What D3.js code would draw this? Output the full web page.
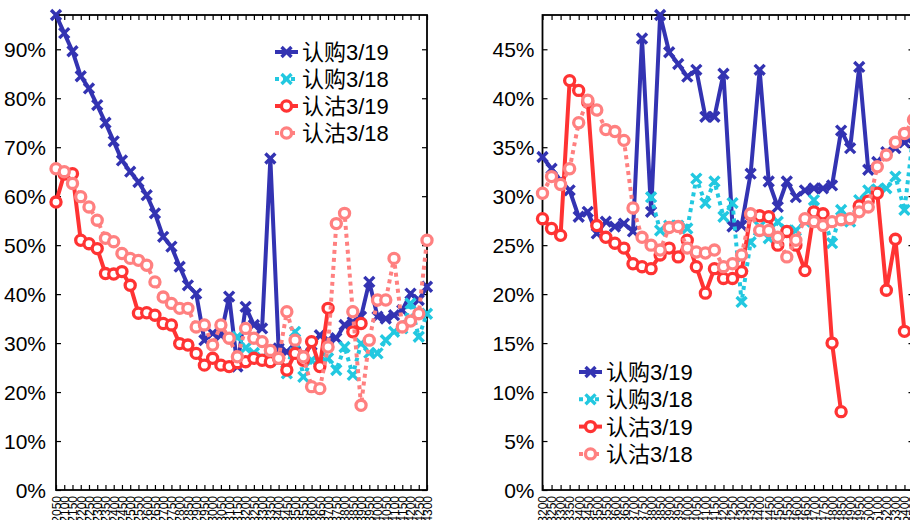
<!DOCTYPE html>
<html><head><meta charset="utf-8">
<script src="https://cdn.jsdelivr.net/npm/d3@7"></script>
<style>
html,body{margin:0;padding:0;background:#fff;overflow:hidden}
text{font-family:"Liberation Sans",Arial,"Noto Sans CJK SC",sans-serif;fill:#000}
</style></head><body>
<svg id="chart" width="910" height="520"></svg>
<script>
// ---------- data ----------
const leftStrikes = ["2050","2100","2150","2200","2250","2300","2350","2400","2450","2500",
  "2550","2600","2650","2700","2750","2800","2850","2900","2950","3000",
  "3050","3100","3150","3200","3250","3300","3350","3400","3450","3500",
  "3550","3600","3650","3700","3750","3800","3850","3900","3950","4000",
  "4050","4100","4150","4200","4250","4300"];
const rightStrikes = ["3200","3250","3300","3350","3400","3450","3500","3550","3600","3650",
  "3700","3750","3800","3850","3900","3950","4000","4050","4100","4150",
  "4200","4250","4300","4350","4400","4450","4500","4550","4600","4650",
  "4700","4750","4800","4850","4900","4950","5000","5100","5200","5300",
  "5400","5500"];
const seriesNames = ["认购3/19","认购3/18","认沽3/19","认沽3/18"];

// values in percent
const leftCall319 = [97,93.3,89.6,84.5,82,78.6,75,71.2,67.3,65,
  62.9,60.2,56.5,51.7,49.7,45.6,41.8,40.1,30.6,32,
  31.6,39.5,25.2,37.4,33.7,33,67.7,28.9,28.2,29.9,
  27.6,29.6,31.6,30.6,31,33.7,34.3,35.4,42.5,35.4,
  35,35.7,36.7,40.1,38.8,41.5];
const leftCall318 = [null,null,null,null,null,null,null,null,null,null,
  null,null,null,null,null,null,null,null,null,null,
  null,null,31.3,29,28,27,27,26.5,23.8,32.3,
  23.1,26.5,26,26.9,24.5,29.2,23.5,29.9,28,27.9,
  30.6,32.3,33,38.1,31.3,36];
const leftPut319 = [58.8,64.5,64.6,51,50.3,49.3,44.2,44.1,44.6,41.8,
  36.1,36.2,35.7,34,33.7,29.9,29.6,27.9,25.5,26.9,
  25.5,25.2,26,26.2,26.9,26.5,26.2,26.9,24.5,27.9,
  26.5,30.3,25.2,37.1,null,null,32.3,34,null,null,
  null,null,null,null,null,null];
const leftPut318 = [65.6,65,62.6,59.9,57.8,55.1,51.4,50.7,48.3,47.3,
  46.9,45.9,42.5,39.4,38.1,37.1,37.1,33.3,33.7,29.6,
  33.7,31,27.2,33,31,30.3,28.5,26.9,36.4,30.6,
  27.2,21.1,20.7,29.2,54.4,56.5,36.4,17.3,30.6,38.8,
  38.8,47.3,33.3,34.5,36,51];

const rightCall319 = [34,32.8,31.6,30.6,27.9,28.4,26.2,27.4,26.9,27.2,
  26.4,46.1,28.4,48.5,44.7,43.5,42.2,42.9,38.1,38.1,
  42.5,26.9,27,32.3,42.9,31.5,28.9,31.5,29.9,30.6,
  30.8,30.8,31.1,36.7,34.9,43.2,32.7,33.5,34.5,34.9,
  35.5,36];
const rightCall318 = [null,null,null,null,null,null,null,null,null,null,
  null,null,29.9,26.5,27,27,26.7,31.8,29.3,31.5,
  27.9,29.3,19.2,25.3,26.9,25.7,27.4,26.5,26.5,27.4,
  29.6,27.9,25.2,28.6,27.4,29.6,30.6,30.7,30.8,32,
  28.6,36.5];
const rightPut319 = [27.7,26.7,26,41.8,40.8,39.6,27,25.8,25.2,24.7,
  23.1,22.8,22.6,24,24.7,23.8,25.5,22.8,20.1,22.6,
  21.6,21.6,22.3,28.1,28,27.9,25,26.4,25,22.4,
  28.4,28.2,15,8,null,29,29.5,30.3,20.4,25.6,
  16.2,null];
const rightPut318 = [30.3,32,31.2,32.8,37.5,39.8,38.8,36.8,36.6,35.7,
  28.8,25.8,25,24.5,26.8,26.9,24.7,24.3,24.2,24.5,
  22.8,23.1,24,28.2,26.5,26.5,25.8,23.8,25.5,27.7,
  27.4,27,27.4,27.6,27.7,28.4,28.9,33,34.2,35.5,
  36.4,37.8];

const leftYTicks = [0,10,20,30,40,50,60,70,80,90];
const rightYTicks = [0,5,10,15,20,25,30,35,40,45];

// ---------- styles ----------
const styles = [
  {color:"#3333b2", dash:null, marker:"x"},
  {color:"#22c8e0", dash:"4 4", marker:"x"},
  {color:"#ff3333", dash:null, marker:"o"},
  {color:"#ff8080", dash:"4 4", marker:"o"}
];

const svg = d3.select("#chart");
const TOP = 15, BOTTOM = 490;

function drawPanel(cfg){
  const g = svg.append("g");
  const x = d3.scalePoint().domain(cfg.labels).range([cfg.x0, cfg.x1]);
  const y = d3.scaleLinear().domain([0, cfg.ymax]).range([BOTTOM, TOP]);

  // axes
  const ax = g.append("g").attr("class","axes");
  const bot = ax.append("g").attr("transform",`translate(0,${BOTTOM})`)
    .call(d3.axisBottom(x).tickSize(-5).tickSizeOuter(0));
  bot.selectAll("text")
    .attr("transform","rotate(-90)")
    .attr("text-anchor","end")
    .attr("x",-6).attr("y",0).attr("dy","0.36em")
    .style("font-size","12px");
  ax.append("g").attr("transform",`translate(0,${TOP})`)
    .call(d3.axisTop(x).tickSize(-5).tickSizeOuter(0).tickFormat(()=>""));
  const left = ax.append("g").attr("transform",`translate(${cfg.x0},0)`)
    .call(d3.axisLeft(y).tickValues(cfg.yticks).tickSize(-5).tickSizeOuter(0)
      .tickPadding(cfg.pad).tickFormat(d=>d+"%"));
  left.selectAll("text").style("font-size","21px").attr("dy","0.36em");
  ax.append("g").attr("transform",`translate(${cfg.x1},0)`)
    .call(d3.axisRight(y).tickValues(cfg.yticks).tickSize(-5).tickSizeOuter(0).tickFormat(()=>""));
  ax.selectAll(".domain").remove();
  ax.selectAll(".tick line").attr("stroke","#000").attr("stroke-width",1.2);
  g.append("rect").attr("x",cfg.x0).attr("y",TOP)
    .attr("width",cfg.x1-cfg.x0).attr("height",BOTTOM-TOP)
    .attr("fill","none").attr("stroke","#000").attr("stroke-width",1.8);

  // series
  const line = d3.line().defined(d=>d.v!=null).x(d=>x(d.k)).y(d=>y(d.v));
  cfg.series.forEach((vals,si)=>{
    const st = styles[si];
    const pts = vals.map((v,i)=>({k:cfg.labels[i], v}));
    g.append("path").datum(pts).attr("d",line)
      .attr("fill","none").attr("stroke",st.color).attr("stroke-width",4)
      .attr("stroke-linejoin","round")
      .attr("stroke-dasharray",st.dash);
    const sym = st.marker==="x" ? d3.symbol(d3.symbolTimes,66) : d3.symbol(d3.symbolCircle,80);
    g.append("g").selectAll("path").data(pts.filter(d=>d.v!=null)).join("path")
      .attr("transform",d=>`translate(${x(d.k)},${y(d.v)})`)
      .attr("d",sym)
      .attr("fill", st.marker==="x" ? "none" : "#fff")
      .attr("stroke",st.color)
      .attr("stroke-width", st.marker==="x" ? 3.4 : 3.3);
  });

  // legend
  const lg = g.append("g").attr("transform",`translate(${cfg.legX},${cfg.legY})`);
  seriesNames.forEach((name,si)=>{
    const st = styles[si];
    const row = lg.append("g").attr("transform",`translate(0,${si*cfg.legStep})`);
    row.append("line").attr("x1",0).attr("x2",23).attr("y1",0).attr("y2",0)
      .attr("stroke",st.color).attr("stroke-width",4).attr("stroke-dasharray",st.dash);
    const sym = st.marker==="x" ? d3.symbol(d3.symbolTimes,66) : d3.symbol(d3.symbolCircle,80);
    row.append("path").attr("transform","translate(11.5,0)").attr("d",sym)
      .attr("fill", st.marker==="x" ? "none" : "#fff")
      .attr("stroke",st.color).attr("stroke-width", st.marker==="x" ? 3.4 : 3.3);
    row.append("text").attr("x",27).attr("y",0).attr("dy","0.36em")
      .style("font-size","22px").text(name);
  });
}

drawPanel({labels:leftStrikes, x0:56, x1:427, ymax:97, yticks:leftYTicks, pad:10,
  series:[leftCall319,leftCall318,leftPut319,leftPut318],
  legX:275, legY:52, legStep:27});
drawPanel({labels:rightStrikes, x0:542.5, x1:913.5, ymax:48.5, yticks:rightYTicks, pad:8,
  series:[rightCall319,rightCall318,rightPut319,rightPut318],
  legX:579, legY:372, legStep:27.3});
</script>
</body></html>
